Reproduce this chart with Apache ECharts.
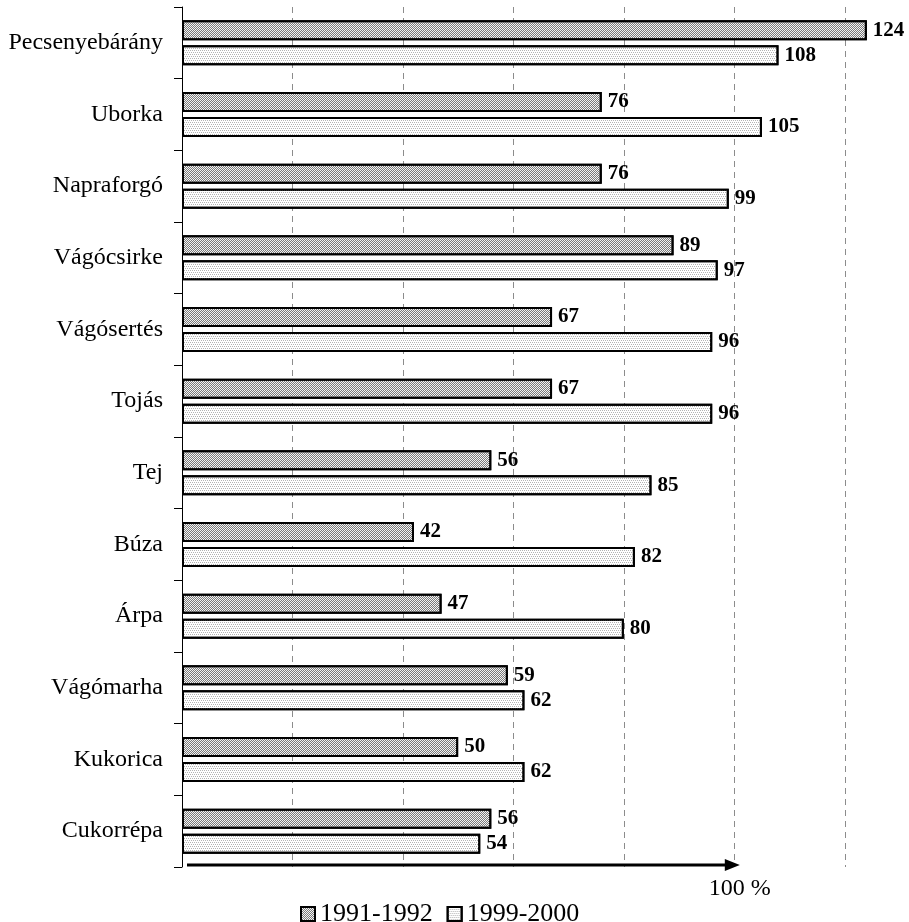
<!DOCTYPE html>
<html>
<head>
<meta charset="utf-8">
<script src="https://cdn.jsdelivr.net/npm/echarts@6/dist/echarts.min.js"></script>
<style>
html,body{margin:0;padding:0;background:#fff;}
#chart{width:909px;height:922px;}
</style>
</head>
<body>
<div id="chart"></div>
<script>
const categories = ['Pecsenyebárány','Uborka','Napraforgó','Vágócsirke','Vágósertés','Tojás','Tej','Búza','Árpa','Vágómarha','Kukorica','Cukorrépa'];
const series1991 = [124, 76, 76, 89, 67, 67, 56, 42, 47, 59, 50, 56];
const series1999 = [108, 105, 99, 97, 96, 96, 85, 82, 80, 62, 62, 54];
const seriesNames = ['1991-1992', '1999-2000'];
const arrowValue = 101;
const arrowLabel = '100 %';

const FONT = '"Liberation Serif", "DejaVu Serif", serif';
const chart = echarts.init(document.getElementById('chart'), null, {renderer: 'canvas'});

const labelCfg = {
  show: true,
  position: 'right',
  distance: 6,
  color: '#000',
  fontFamily: FONT,
  fontWeight: 'bold',
  fontSize: 21
};

chart.setOption({
  animation: false,
  backgroundColor: '#fff',
  grid: {left: 182, right: 9, top: 7, bottom: 55, containLabel: false},
  legend: {
    data: seriesNames,
    left: 295,
    top: 896,
    itemWidth: 14,
    itemHeight: 14,
    itemGap: 14,
    icon: 'rect',
    textStyle: {fontFamily: FONT, fontSize: 26, color: '#000'},
    itemStyle: {borderColor: '#000', borderWidth: 2}
  },
  xAxis: {
    type: 'value',
    min: 0,
    max: 130,
    interval: 20,
    axisLine: {show: false},
    axisTick: {show: false},
    axisLabel: {show: false},
    splitLine: {
      show: true,
      showMinLine: false,
      showMaxLine: false,
      lineStyle: {color: '#8c8c8c', width: 1, type: [6, 5]}
    }
  },
  yAxis: {
    type: 'category',
    inverse: true,
    data: categories,
    axisLine: {show: true, lineStyle: {color: '#000', width: 1}},
    axisTick: {show: true, length: 8, lineStyle: {color: '#000', width: 1}},
    axisLabel: {fontFamily: FONT, fontSize: 24, color: '#000', margin: 19}
  },
  series: [
    {
      name: seriesNames[0],
      type: 'bar',
      data: series1991,
      barWidth: 20,
      barGap: '25%',
      itemStyle: {
        color: '#f4f4f4', borderColor: '#000', borderWidth: 2,
        decal: {symbol: 'rect', symbolSize: 1, color: '#7a7a7a',
                dashArrayX: [[1, 1], [0, 1, 1, 0]], dashArrayY: [1, 0], rotation: 0}
      },
      label: labelCfg
    },
    {
      name: seriesNames[1],
      type: 'bar',
      data: series1999,
      barWidth: 20,
      itemStyle: {
        color: '#ffffff', borderColor: '#000', borderWidth: 2,
        decal: {symbol: 'rect', symbolSize: 1, color: '#b4b4b4',
                dashArrayX: [[1, 1], [0, 1, 1, 0]], dashArrayY: [1, 1], rotation: 0}
      },
      label: labelCfg
    }
  ]
});

function drawExtras() {
  const x0 = chart.convertToPixel({xAxisIndex: 0}, 0) + 5;
  const x1 = chart.convertToPixel({xAxisIndex: 0}, arrowValue);
  const y = 865;
  chart.setOption({
    graphic: [
      {
        type: 'line',
        shape: {x1: x0, y1: y, x2: x1 - 12, y2: y},
        style: {stroke: '#000', lineWidth: 3},
        silent: true
      },
      {
        type: 'polygon',
        shape: {points: [[x1 - 15, y - 6], [x1, y], [x1 - 15, y + 6]]},
        style: {fill: '#000'},
        silent: true
      },
      {
        type: 'text',
        x: x1,
        y: 889,
        style: {
          text: arrowLabel,
          fill: '#000',
          font: '24px ' + FONT,
          align: 'center',
          verticalAlign: 'middle'
        },
        silent: true
      }
    ]
  });
}
drawExtras();
</script>
</body>
</html>
